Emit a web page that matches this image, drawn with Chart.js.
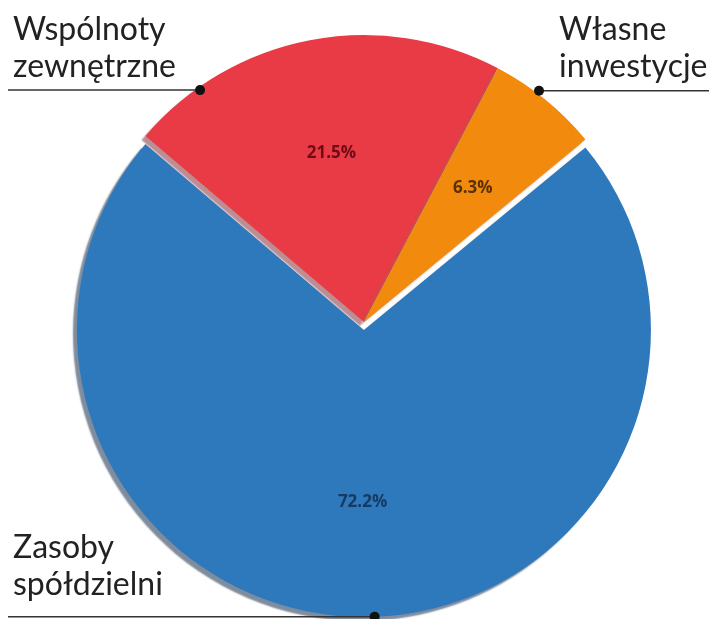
<!DOCTYPE html>
<html>
<head>
<meta charset="utf-8">
<script src="https://cdn.jsdelivr.net/npm/chart.js@4"></script>
<style>
  body { margin: 0; background: #fff; }
  #wrap { width: 709px; height: 619px; }
</style>
</head>
<body>
<div id="wrap"><canvas id="chart" width="709" height="619"></canvas></div>
<script>
// data
const labels = ['Zasoby spółdzielni', 'Wspólnoty zewnętrzne', 'Własne inwestycje']
const values = [72.2, 21.5, 6.3]
const colors = ['#2e78bc', '#e83b46', '#f28a0d']
const textColors = ['#173a63', '#6e0c16', '#5a3106']
const shadowColors = ['rgba(105,120,140,0.85)', 'rgba(185,135,142,0.95)', 'rgba(150,110,80,0.5)']
const pullOut = [8, 0, 0]

// callouts: text lines, where the text sits, which side the line runs to,
// where along the slice (0..1) the dot sits and how far inside the rim
const callouts = [
  { lines: ['Zasoby', 'spółdzielni'], x: 13, y: 558, side: 'left', at: 0.49, inset: 0 },
  { lines: ['Wspólnoty', 'zewnętrzne'], x: 13, y: 40, side: 'left', at: 0.185, inset: 3 },
  { lines: ['Własne', 'inwestycje'], x: 559, y: 40, side: 'right', at: 0.41, inset: -3 }
]

// per slice shadow and the pulled out slice
const sliceFx = {
  id: 'sliceFx',
  beforeDatasetsDraw(chart) {
    chart.getDatasetMeta(0).data.forEach((arc, i) => {
      if (arc._fx) return
      const orig = arc.draw
      arc._fx = true
      arc.draw = function (ctx) {
        const mid = (this.startAngle + this.endAngle) / 2
        ctx.save()
        ctx.translate(Math.cos(mid) * pullOut[i], Math.sin(mid) * pullOut[i])
        ctx.shadowColor = shadowColors[i]
        ctx.shadowOffsetX = -4
        ctx.shadowOffsetY = 4
        ctx.shadowBlur = 1.5
        orig.call(this, ctx)
        ctx.restore()
      }
    })
  }
}

const texts = {
  id: 'texts',
  afterDatasetsDraw(chart) {
    const ctx = chart.ctx
    const arcs = chart.getDatasetMeta(0).data
    ctx.save()
    // percentages inside slices
    ctx.font = 'bold 17px "Open Sans"'
    ctx.textAlign = 'center'
    ctx.textBaseline = 'middle'
    arcs.forEach((arc, i) => {
      const mid = (arc.startAngle + arc.endAngle) / 2
      const r = arc.outerRadius * 0.6 + pullOut[i]
      ctx.fillStyle = textColors[i]
      ctx.fillText(values[i].toFixed(1) + '%', arc.x + Math.cos(mid) * r, arc.y + Math.sin(mid) * r)
    })
    // callouts
    ctx.textAlign = 'left'
    ctx.textBaseline = 'alphabetic'
    ctx.font = '32px Lato'
    callouts.forEach((c, i) => {
      const arc = arcs[i]
      const a = arc.startAngle + (arc.endAngle - arc.startAngle) * c.at
      const mid = (arc.startAngle + arc.endAngle) / 2
      const r = arc.outerRadius - c.inset
      const dx = arc.x + Math.cos(mid) * pullOut[i] + Math.cos(a) * r
      const dy = arc.y + Math.sin(mid) * pullOut[i] + Math.sin(a) * r
      ctx.strokeStyle = '#333'
      ctx.lineWidth = 1.5
      ctx.beginPath()
      ctx.moveTo(dx, dy)
      ctx.lineTo(c.side == 'left' ? 8 : chart.width, dy)
      ctx.stroke()
      ctx.fillStyle = '#111'
      ctx.beginPath()
      ctx.arc(dx, dy, 5, 0, Math.PI * 2)
      ctx.fill()
      ctx.fillStyle = '#222'
      c.lines.forEach((line, j) => {
        ctx.fillText(line, c.x, c.y + j * 37)
      })
    })
    ctx.restore()
  }
}

new Chart(document.getElementById('chart'), {
  type: 'pie',
  data: {
    labels: labels,
    datasets: [{
      data: values,
      backgroundColor: colors,
      borderWidth: 0,
      hoverOffset: 0
    }]
  },
  options: {
    responsive: false,
    animation: false,
    events: [],
    rotation: 50.5,
    radius: 287,
    layout: { padding: { left: 19, right: 0, top: 25, bottom: 0 } },
    plugins: {
      legend: { display: false },
      tooltip: { enabled: false }
    }
  },
  plugins: [sliceFx, texts]
})
</script>
</body>
</html>
